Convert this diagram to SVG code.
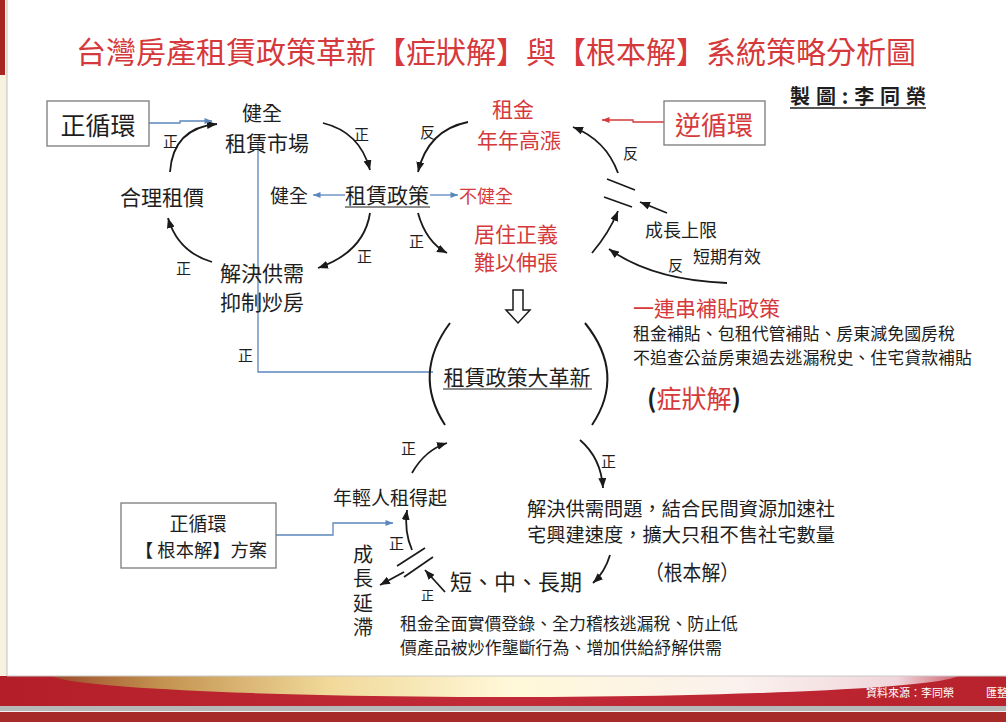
<svg xmlns="http://www.w3.org/2000/svg" width="1006" height="722" viewBox="0 0 1006 722">
<defs>
<style>
text{font-family:"Noto Sans CJK TC","Liberation Sans",sans-serif;fill:#1e1e1e}
.r{fill:#d6393b}
.lbl{font-size:15px}
.arc{fill:none;stroke:#1a1a1a;stroke-width:1.8;marker-end:url(#ah)}
.blue{fill:none;stroke:#5a86bd;stroke-width:1.3}
.ba{marker-end:url(#bh)}
.red{fill:none;stroke:#d6393b;stroke-width:1.3;marker-end:url(#rh)}
.bar{stroke:#1a1a1a;stroke-width:1.7;fill:none}
.box{fill:#fff;stroke:#7a7a7a;stroke-width:1.3}
</style>
<marker id="ah" viewBox="0 0 10 8" markerWidth="10" markerHeight="8" refX="10" refY="4" orient="auto" markerUnits="userSpaceOnUse"><path d="M0,0 L10,4 L0,8 Z" fill="#1a1a1a"/></marker>
<marker id="bh" viewBox="0 0 10 8" markerWidth="8" markerHeight="6" refX="10" refY="4" orient="auto" markerUnits="userSpaceOnUse"><path d="M0,0 L10,4 L0,8 Z" fill="#5a86bd"/></marker>
<marker id="rh" viewBox="0 0 10 8" markerWidth="8" markerHeight="6" refX="10" refY="4" orient="auto" markerUnits="userSpaceOnUse"><path d="M0,0 L10,4 L0,8 Z" fill="#d6393b"/></marker>
<linearGradient id="sw" gradientUnits="userSpaceOnUse" x1="50" y1="0" x2="970" y2="0">
<stop offset="0" stop-color="#9c4a2a"/>
<stop offset="0.12" stop-color="#c3924f"/>
<stop offset="0.3" stop-color="#f0d898"/>
<stop offset="0.5" stop-color="#fff8d8"/>
<stop offset="0.75" stop-color="#fbf1ee"/>
<stop offset="0.92" stop-color="#f0d6dc"/>
<stop offset="1" stop-color="#c9505c"/>
</linearGradient>
<linearGradient id="band" x1="0" y1="0" x2="1" y2="0">
<stop offset="0" stop-color="#b31f28"/>
<stop offset="0.5" stop-color="#c22a38"/>
<stop offset="1" stop-color="#b8222c"/>
</linearGradient>
<clipPath id="bandclip"><rect x="0" y="676" width="1006" height="30"/></clipPath>
</defs>

<g id="background">
<rect x="0" y="0" width="1006" height="722" fill="#ffffff"/>
<rect x="0" y="0" width="7" height="676" fill="#f8f1dd"/>
<rect x="0" y="0" width="5" height="75" fill="#a82621"/>
<line x1="7" y1="0" x2="7" y2="676" stroke="#c9c9c9" stroke-width="1.2"/>
<rect x="0" y="676" width="1006" height="31" fill="url(#band)"/>
<g clip-path="url(#bandclip)">
<ellipse cx="505" cy="674" rx="455" ry="23" fill="url(#sw)"/>
</g>
<line x1="7" y1="676" x2="1006" y2="676" stroke="#c9c9c9" stroke-width="1"/>
<rect x="0" y="706" width="1006" height="5" fill="#b7b7b7"/>
<rect x="0" y="711" width="1006" height="1" fill="#f2f2f2"/>
<rect x="0" y="712" width="1006" height="10" fill="#a62a28"/>
<text x="866" y="697" style="font-size:11px;fill:#ffffff">資料來源：李同榮</text>
<text x="986" y="697" style="font-size:11px;fill:#ffffff">匯整</text>
</g>

<g id="title">
<text x="76" y="63" class="r" style="font-size:30px" textLength="840" lengthAdjust="spacingAndGlyphs">台灣房產租賃政策革新【症狀解】與【根本解】系統策略分析圖</text>
<text x="790" y="104" style="font-size:20px;font-weight:bold" textLength="136" lengthAdjust="spacing">製圖:李同榮</text>
<line x1="790" y1="108" x2="926" y2="108" stroke="#1e1e1e" stroke-width="1.3"/>
</g>

<g id="connectors">
<!-- left positive loop -->
<path class="arc" d="M170,172 Q173,128 217,124"/>
<path class="arc" d="M323,123 Q360,132 370,170"/>
<path class="arc" d="M370,213 Q364,252 318,268"/>
<path class="arc" d="M212,262 Q178,252 168,218"/>
<!-- right reverse loop -->
<path class="arc" d="M468,122 Q428,130 418,172"/>
<path class="arc" d="M418,213 Q426,242 447,253"/>
<path class="arc" d="M592,253 Q609,233 618,211"/>
<path class="arc" d="M618,173 Q606,140 573,127"/>
<path class="arc" d="M667,213 L640,202"/>
<path class="arc" d="M727,283 Q652,280 609,249"/>
<line class="bar" x1="607" y1="179" x2="635" y2="190"/>
<line class="bar" x1="604" y1="197" x2="632" y2="207"/>
<!-- blue/red links -->
<polyline class="blue ba" points="149,123 180,123 180,121 212,121"/>
<polyline class="blue ba" points="345,195 313,195"/>
<polyline class="blue ba" points="430,195 458,195"/>
<polyline class="blue" points="433,372 258,372 258,143"/>
<polyline class="red" points="664,122 633,122 633,120 602,120"/>
<!-- hollow arrow -->
<path d="M513,290 L523,290 L523,310 L530,310 L518,323 L506,310 L513,310 Z" fill="#fff" stroke="#1a1a1a" stroke-width="1.5"/>
<!-- big brackets -->
<path d="M450,323 Q412,374 445,425" fill="none" stroke="#1a1a1a" stroke-width="2"/>
<path d="M585,323 Q626,374 592,425" fill="none" stroke="#1a1a1a" stroke-width="2"/>
<!-- bottom loop -->
<path class="arc" d="M412,473 Q425,450 447,443"/>
<path class="arc" d="M580,440 Q601,458 603,488"/>
<path class="arc" d="M610,555 Q605,572 593,583"/>
<path class="arc" d="M445,592 L425,570"/>
<path class="arc" d="M404,572 L380,585"/>
<path class="arc" d="M412,550 Q404,532 407,510"/>
<line class="bar" x1="397" y1="566" x2="425" y2="548"/>
<line class="bar" x1="404" y1="577" x2="433" y2="557"/>
<polyline class="blue ba" points="276,535 333,535 333,523 393,523"/>
</g>

<g id="labels">
<text class="lbl" x="163" y="147">正</text>
<text class="lbl" x="354" y="140">正</text>
<text class="lbl" x="420" y="138">反</text>
<text class="lbl" x="176" y="274">正</text>
<text class="lbl" x="357" y="262">正</text>
<text class="lbl" x="409" y="247">正</text>
<text class="lbl" x="623" y="159">反</text>
<text class="lbl" x="668" y="271">反</text>
<text class="lbl" x="238" y="361">正</text>
<text class="lbl" x="401" y="454">正</text>
<text class="lbl" x="601" y="467">正</text>
<text class="lbl" x="389" y="549">正</text>
<text x="421" y="600" style="font-size:13px">正</text>
</g>

<g id="node-zhengxunhuan">
<rect class="box" x="47" y="101" width="102" height="45"/>
<text x="98" y="135" text-anchor="middle" style="font-size:25px">正循環</text>
</g>
<g id="node-healthy-market">
<text x="262" y="121" text-anchor="middle" style="font-size:20px">健全</text>
<text x="267" y="151" text-anchor="middle" style="font-size:21px">租賃市場</text>
</g>
<g id="node-reasonable-rent">
<text x="162" y="205" text-anchor="middle" style="font-size:21px">合理租價</text>
</g>
<g id="node-supply">
<text x="262" y="281" text-anchor="middle" style="font-size:21px">解決供需</text>
<text x="262" y="310" text-anchor="middle" style="font-size:21px">抑制炒房</text>
</g>
<g id="node-policy">
<text x="387" y="203" text-anchor="middle" style="font-size:21px">租賃政策</text>
<line x1="345" y1="207" x2="430" y2="207" stroke="#1e1e1e" stroke-width="1.2"/>
</g>
<g id="node-healthy">
<text x="289" y="203" text-anchor="middle" style="font-size:19px">健全</text>
</g>
<g id="node-unhealthy">
<text x="459" y="203" class="r" style="font-size:18px">不健全</text>
</g>
<g id="node-rent-rise">
<text x="513" y="117" text-anchor="middle" class="r" style="font-size:21px">租金</text>
<text x="519" y="148" text-anchor="middle" class="r" style="font-size:21px">年年高漲</text>
</g>
<g id="node-nixunhuan">
<rect class="box" x="664" y="101" width="101" height="44"/>
<text x="714" y="135" text-anchor="middle" class="r" style="font-size:26px">逆循環</text>
</g>
<g id="node-justice">
<text x="516" y="242" text-anchor="middle" class="r" style="font-size:21px">居住正義</text>
<text x="516" y="270" text-anchor="middle" class="r" style="font-size:21px">難以伸張</text>
</g>
<g id="node-growth-limit">
<text x="645" y="237" style="font-size:18px">成長上限</text>
<text x="693" y="263" style="font-size:17px">短期有效</text>
</g>
<g id="node-subsidy">
<text x="633" y="316" class="r" style="font-size:21px">一連串補貼政策</text>
<text x="633" y="340" style="font-size:17px" textLength="322" lengthAdjust="spacingAndGlyphs">租金補貼、包租代管補貼、房東減免國房稅</text>
<text x="633" y="364" style="font-size:17px" textLength="339" lengthAdjust="spacingAndGlyphs">不追查公益房東過去逃漏稅史、住宅貸款補貼</text>
<text x="647" y="408" style="font-size:25px;font-weight:bold">(<tspan class="r" style="font-weight:normal">症狀解</tspan>)</text>
</g>
<g id="node-reform">
<text x="517" y="385" text-anchor="middle" style="font-size:21px">租賃政策大革新</text>
<line x1="443" y1="389" x2="592" y2="389" stroke="#1e1e1e" stroke-width="1.2"/>
</g>
<g id="node-young">
<text x="390" y="505" text-anchor="middle" style="font-size:19px">年輕人租得起</text>
</g>
<g id="node-root-box">
<rect class="box" x="121" y="503" width="155" height="65"/>
<text x="198" y="531" text-anchor="middle" style="font-size:19px">正循環</text>
<text x="135" y="557" style="font-size:18px" textLength="132" lengthAdjust="spacingAndGlyphs">【 根本解】方案</text>
</g>
<g id="node-delay">
<text x="363" y="544" style="font-size:20px;writing-mode:vertical-rl;letter-spacing:4.5px">成長延滯</text>
</g>
<g id="node-supply-solution">
<text x="527" y="516" style="font-size:19px" textLength="308" lengthAdjust="spacingAndGlyphs">解決供需問題，結合民間資源加速社</text>
<text x="527" y="542" style="font-size:19px" textLength="308" lengthAdjust="spacingAndGlyphs">宅興建速度，擴大只租不售社宅數量</text>
<text x="645" y="580" style="font-size:21px" textLength="94" lengthAdjust="spacingAndGlyphs">（根本解）</text>
</g>
<g id="node-terms">
<text x="450" y="590" style="font-size:22px">短、中、長期</text>
<text x="400" y="630" style="font-size:17px" textLength="338" lengthAdjust="spacingAndGlyphs">租金全面實價登錄、全力稽核逃漏稅、防止低</text>
<text x="400" y="654" style="font-size:17px" textLength="322" lengthAdjust="spacingAndGlyphs">價產品被炒作壟斷行為、增加供給紓解供需</text>
</g>
</svg>
